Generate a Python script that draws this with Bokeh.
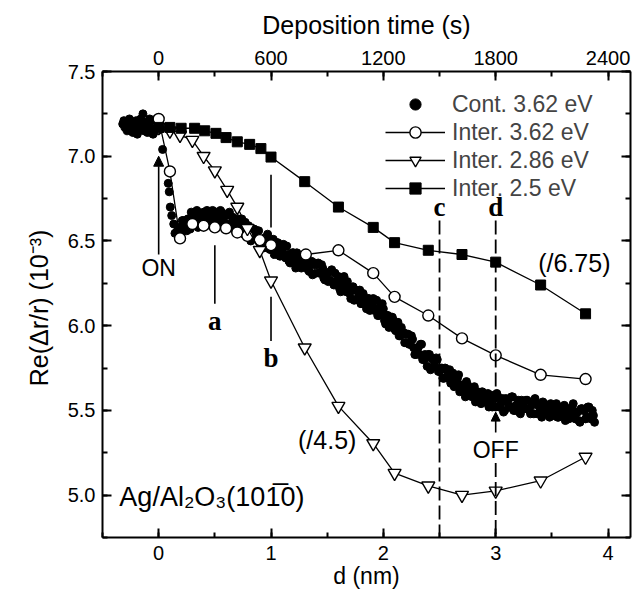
from bokeh.plotting import figure
from bokeh.models import (Range1d, LinearAxis, SingleIntervalTicker, Legend, LegendItem,
                          Label, Arrow, NormalHead, PrintfTickFormatter, CustomJSTickFormatter)
from bokeh.embed import file_html
from bokeh.resources import INLINE

# ---------------- data ----------------
# continuous measurement (Cont. 3.62 eV), read off the picture
cont_d_a = [-0.32, -0.31, -0.30, -0.29, -0.28, -0.27, -0.26, -0.25, -0.24, -0.23,
            -0.22, -0.21, -0.20, -0.19, -0.18, -0.17, -0.16, -0.15, -0.14, -0.13,
            -0.12, -0.11, -0.10, -0.09, -0.08, -0.07, -0.06, -0.05, -0.04, -0.03,
            -0.02, -0.01, 0.00, 0.01, 0.02,
            0.035, 0.085, 0.094, 0.103, 0.116, 0.134, 0.145, 0.163,
            0.18, 0.20, 0.22, 0.24, 0.26, 0.28, 0.30, 0.32, 0.34, 0.36,
            0.38, 0.40, 0.42, 0.44, 0.46, 0.48, 0.50, 0.52, 0.54, 0.56,
            0.58, 0.60, 0.62, 0.64, 0.66, 0.68, 0.70, 0.72, 0.74, 0.76,
            0.78, 0.80, 0.82, 0.84, 0.86, 0.88, 0.90, 0.92, 0.94, 0.96,
            0.98, 1.00, 1.02, 1.04, 1.06, 1.08, 1.10, 1.12, 1.14, 1.16,
            1.18, 1.20, 1.22, 1.24, 1.26, 1.28, 1.30, 1.32, 1.34, 1.36,
            1.38, 1.40, 1.42, 1.44, 1.46, 1.48, 1.50, 1.52, 1.54, 1.56,
            1.58, 1.60, 1.62, 1.64, 1.66, 1.68, 1.70, 1.72, 1.74, 1.76,
            1.78, 1.80, 1.82, 1.84, 1.86, 1.88, 1.90, 1.92, 1.94, 1.96,
            1.98, 2.00, 2.02, 2.04, 2.06, 2.08, 2.10, 2.12, 2.14, 2.16,
            2.18, 2.20, 2.22, 2.24, 2.26, 2.28, 2.30, 2.32, 2.34, 2.36,
            2.38, 2.40, 2.42, 2.44, 2.46, 2.48, 2.50, 2.52, 2.54, 2.56,
            2.58, 2.60, 2.62, 2.64, 2.66, 2.68, 2.70, 2.72, 2.74, 2.76,
            2.78, 2.80, 2.82, 2.84, 2.86, 2.88, 2.90, 2.92, 2.94, 2.96,
            2.98, 3.00, 3.02, 3.04, 3.06, 3.08, 3.10, 3.12, 3.14, 3.16,
            3.18, 3.20, 3.22, 3.24, 3.26, 3.28, 3.30, 3.32, 3.34, 3.36,
            3.38, 3.40, 3.42, 3.44, 3.46, 3.48, 3.50, 3.52, 3.54, 3.56,
            3.58, 3.60, 3.62, 3.64, 3.66, 3.68, 3.70, 3.72, 3.74, 3.76,
            3.78, 3.80, 3.82, 3.84, 3.86, 3.88]
cont_v_a = [7.19, 7.21, 7.17, 7.20, 7.15, 7.19, 7.22, 7.16, 7.18, 7.14,
            7.20, 7.17, 7.21, 7.13, 7.18, 7.16, 7.22, 7.19, 7.25, 7.15,
            7.20, 7.17, 7.14, 7.19, 7.22, 7.16, 7.18, 7.13, 7.20, 7.17,
            7.22, 7.15, 7.19, 7.21, 7.16,
            7.04, 6.84, 6.79, 6.70, 6.65, 6.60, 6.545, 6.555,
            6.58, 6.54, 6.62, 6.58, 6.63, 6.57, 6.63, 6.60, 6.68, 6.61,
            6.64, 6.67, 6.59, 6.66, 6.63, 6.68, 6.62, 6.65, 6.60, 6.67,
            6.65, 6.60, 6.66, 6.60, 6.64, 6.56, 6.61, 6.57, 6.63, 6.54,
            6.56, 6.59, 6.50, 6.56, 6.52, 6.56, 6.49, 6.51, 6.46, 6.52,
            6.50, 6.45, 6.51, 6.45, 6.49, 6.41, 6.45, 6.41, 6.47, 6.38,
            6.41, 6.43, 6.34, 6.41, 6.37, 6.41, 6.35, 6.37, 6.32, 6.38,
            6.36, 6.31, 6.37, 6.31, 6.34, 6.27, 6.31, 6.27, 6.33, 6.24,
            6.26, 6.29, 6.20, 6.26, 6.22, 6.26, 6.19, 6.21, 6.15, 6.21,
            6.19, 6.13, 6.19, 6.13, 6.16, 6.09, 6.13, 6.09, 6.15, 6.06,
            6.08, 6.10, 6.01, 6.06, 6.02, 6.05, 5.98, 6.00, 5.94, 5.99,
            5.96, 5.90, 5.95, 5.89, 5.92, 5.83, 5.87, 5.83, 5.89, 5.80,
            5.81, 5.83, 5.74, 5.80, 5.76, 5.80, 5.73, 5.75, 5.69, 5.74,
            5.72, 5.66, 5.72, 5.66, 5.69, 5.61, 5.65, 5.61, 5.67, 5.59,
            5.61, 5.63, 5.55, 5.61, 5.57, 5.61, 5.55, 5.58, 5.52, 5.59,
            5.57, 5.52, 5.58, 5.53, 5.57, 5.50, 5.55, 5.52, 5.58, 5.50,
            5.53, 5.56, 5.48, 5.54, 5.51, 5.56, 5.50, 5.53, 5.48, 5.54,
            5.53, 5.48, 5.55, 5.49, 5.53, 5.46, 5.51, 5.48, 5.54, 5.46,
            5.49, 5.52, 5.44, 5.51, 5.48, 5.52, 5.47, 5.49, 5.44, 5.51,
            5.50, 5.45, 5.52, 5.46, 5.50, 5.43]
cont_d_b = [0.19, 0.21, 0.23, 0.25, 0.27, 0.29, 0.31, 0.33, 0.35, 0.37,
            0.39, 0.41, 0.43, 0.45, 0.47, 0.49, 0.51, 0.53, 0.55, 0.57,
            0.59, 0.61, 0.63, 0.65, 0.67, 0.69, 0.71, 0.73, 0.75, 0.77,
            0.79, 0.81, 0.83, 0.85, 0.87, 0.89, 0.91, 0.93, 0.95, 0.97,
            0.99, 1.01, 1.03, 1.05, 1.07, 1.09, 1.11, 1.13, 1.15, 1.17,
            1.19, 1.21, 1.23, 1.25, 1.27, 1.29, 1.31, 1.33, 1.35, 1.37,
            1.39, 1.41, 1.43, 1.45, 1.47, 1.49, 1.51, 1.53, 1.55, 1.57,
            1.59, 1.61, 1.63, 1.65, 1.67, 1.69, 1.71, 1.73, 1.75, 1.77,
            1.79, 1.81, 1.83, 1.85, 1.87, 1.89, 1.91, 1.93, 1.95, 1.97,
            1.99, 2.01, 2.03, 2.05, 2.07, 2.09, 2.11, 2.13, 2.15, 2.17,
            2.19, 2.21, 2.23, 2.25, 2.27, 2.29, 2.31, 2.33, 2.35, 2.37,
            2.39, 2.41, 2.43, 2.45, 2.47, 2.49, 2.51, 2.53, 2.55, 2.57,
            2.59, 2.61, 2.63, 2.65, 2.67, 2.69, 2.71, 2.73, 2.75, 2.77,
            2.79, 2.81, 2.83, 2.85, 2.87, 2.89, 2.91, 2.93, 2.95, 2.97,
            2.99, 3.01, 3.03, 3.05, 3.07, 3.09, 3.11, 3.13, 3.15, 3.17,
            3.19, 3.21, 3.23, 3.25, 3.27, 3.29, 3.31, 3.33, 3.35, 3.37,
            3.39, 3.41, 3.43, 3.45, 3.47, 3.49, 3.51, 3.53, 3.55, 3.57,
            3.59, 3.61, 3.63, 3.65, 3.67, 3.69, 3.71, 3.73, 3.75, 3.77,
            3.79, 3.81, 3.83, 3.85, 3.87]
cont_v_b = [6.55, 6.62, 6.58, 6.56, 6.63, 6.67, 6.59, 6.64, 6.58, 6.66,
            6.66, 6.62, 6.68, 6.61, 6.64, 6.60, 6.67, 6.62, 6.68, 6.62,
            6.59, 6.65, 6.67, 6.59, 6.62, 6.55, 6.63, 6.61, 6.56, 6.61,
            6.53, 6.56, 6.51, 6.57, 6.51, 6.56, 6.50, 6.46, 6.52, 6.54,
            6.45, 6.49, 6.42, 6.49, 6.47, 6.42, 6.48, 6.40, 6.42, 6.37,
            6.43, 6.38, 6.43, 6.38, 6.34, 6.39, 6.42, 6.33, 6.37, 6.30,
            6.37, 6.36, 6.31, 6.36, 6.28, 6.30, 6.26, 6.32, 6.26, 6.31,
            6.25, 6.22, 6.27, 6.29, 6.20, 6.23, 6.16, 6.23, 6.21, 6.16,
            6.21, 6.13, 6.15, 6.10, 6.16, 6.10, 6.16, 6.10, 6.06, 6.11,
            6.13, 6.03, 6.06, 5.99, 6.05, 6.03, 5.97, 6.02, 5.94, 5.95,
            5.90, 5.95, 5.89, 5.94, 5.87, 5.83, 5.87, 5.89, 5.80, 5.83,
            5.76, 5.83, 5.81, 5.76, 5.81, 5.73, 5.74, 5.69, 5.75, 5.69,
            5.74, 5.68, 5.64, 5.69, 5.71, 5.62, 5.65, 5.58, 5.65, 5.63,
            5.58, 5.64, 5.56, 5.59, 5.54, 5.60, 5.55, 5.60, 5.55, 5.52,
            5.57, 5.60, 5.52, 5.56, 5.49, 5.57, 5.56, 5.52, 5.58, 5.50,
            5.53, 5.49, 5.56, 5.51, 5.56, 5.51, 5.48, 5.54, 5.57, 5.48,
            5.52, 5.46, 5.54, 5.53, 5.48, 5.54, 5.47, 5.50, 5.46, 5.52,
            5.47, 5.53, 5.48, 5.45, 5.51, 5.54, 5.45, 5.49, 5.43, 5.51,
            5.50, 5.46, 5.52, 5.45, 5.47]

i362_d = [0.00, 0.10, 0.19, 0.30, 0.40, 0.50, 0.60, 0.70, 0.79, 0.90,
          1.00, 1.31, 1.60, 1.91, 2.10, 2.40, 2.70, 3.00, 3.40, 3.80]
i362_v = [7.22, 6.91, 6.515, 6.60, 6.59, 6.58, 6.575, 6.55, 6.53, 6.505,
          6.475, 6.42, 6.445, 6.31, 6.17, 6.06, 5.925, 5.825, 5.71, 5.685]

i286_d = [0.00, 0.10, 0.19, 0.30, 0.40, 0.50, 0.61, 0.70, 0.79, 0.90,
          1.00, 1.30, 1.60, 1.91, 2.10, 2.40, 2.70, 3.00, 3.40, 3.80]
i286_v = [7.17, 7.15, 7.125, 7.095, 7.00, 6.915, 6.80, 6.70, 6.575, 6.445,
          6.265, 5.87, 5.525, 5.305, 5.13, 5.055, 5.00, 5.025, 5.085, 5.225]

i25_d = [0.00, 0.10, 0.20, 0.32, 0.41, 0.51, 0.60, 0.70, 0.81, 0.91,
         1.00, 1.30, 1.60, 1.91, 2.10, 2.40, 2.70, 3.00, 3.40, 3.80]
i25_v = [7.17, 7.17, 7.165, 7.165, 7.15, 7.135, 7.11, 7.085, 7.07, 7.045,
         6.995, 6.85, 6.70, 6.58, 6.49, 6.445, 6.42, 6.375, 6.24, 6.07]

legend_labels = ["Cont. 3.62 eV", "Inter. 3.62 eV", "Inter. 2.86 eV", "Inter. 2.5 eV"]
x_ticks_interval = 1
y_ticks_interval = 0.5
time_ticks_interval = 600

FONT = "Liberation Sans"
SERIF = "Liberation Serif"

p = figure(width=633, height=592, output_backend="svg", toolbar_location=None,
           x_range=Range1d(-0.5, 4.2), y_range=Range1d(4.75, 7.5),
           min_border_left=102, min_border_right=3, min_border_top=71, min_border_bottom=55,
           x_axis_label="d (nm)", y_axis_label="Re(\u0394r/r)  (10\u207b\u00b3)")
p.grid.visible = False
p.outline_line_color = None
p.background_fill_color = "white"
p.border_fill_color = "white"

p.extra_x_ranges = {"time": Range1d(-0.5 * 600, 4.2 * 600)}
top = LinearAxis(x_range_name="time", axis_label="Deposition time (s)",
                 ticker=SingleIntervalTicker(interval=time_ticks_interval, num_minor_ticks=2))
p.add_layout(top, "above")
right = LinearAxis(ticker=SingleIntervalTicker(interval=y_ticks_interval, num_minor_ticks=2),
                   formatter=CustomJSTickFormatter(code="return ''"))
p.add_layout(right, "right")

p.below[0].ticker = SingleIntervalTicker(interval=x_ticks_interval, num_minor_ticks=2)
p.left[0].ticker = SingleIntervalTicker(interval=y_ticks_interval, num_minor_ticks=2)
p.left[0].formatter = PrintfTickFormatter(format="%.1f")

for ax in [p.below[0], p.left[0], top, right]:
    ax.axis_line_width = 2
    ax.axis_line_color = "black"
    ax.major_tick_line_width = 2
    ax.minor_tick_line_width = 2
    ax.major_tick_line_color = "black"
    ax.minor_tick_line_color = "black"
    ax.major_tick_in = 9
    ax.major_tick_out = 0
    ax.minor_tick_in = 5
    ax.minor_tick_out = 0
    ax.major_label_text_font = FONT
    ax.major_label_text_font_size = "20px"
    ax.major_label_text_color = "black"
    ax.axis_label_text_font = FONT
    ax.axis_label_text_font_size = "25px"
    ax.axis_label_text_font_style = "normal"
    ax.axis_label_text_color = "black"

p.left[0].major_label_standoff = 7
p.left[0].axis_label_standoff = 12
bx = p.below[0]
bx.major_label_standoff = 8
bx.axis_label_standoff = 0
bx.axis_label_text_font_size = "23px"
top.major_label_standoff = 7
top.axis_label_standoff = 9
right.major_label_standoff = 0

# ---------------- series ----------------
r_cont = p.scatter(cont_d_a + cont_d_b, cont_v_a + cont_v_b, marker="circle", size=8,
                   color="black")

l362 = p.line(i362_d, i362_v, line_width=1.3, color="black")
m362 = p.scatter(i362_d, i362_v, marker="circle", size=11, fill_color="white",
                 line_color="black", line_width=1.4)
l286 = p.line(i286_d, i286_v, line_width=1.3, color="black")
m286 = p.scatter(i286_d, i286_v, marker="inverted_triangle", size=13, fill_color="white",
                 line_color="black", line_width=1.4)
l25 = p.line(i25_d, i25_v, line_width=1.3, color="black")
m25 = p.scatter(i25_d, i25_v, marker="square", size=10, fill_color="black",
                line_color="black")

legend = Legend(items=[LegendItem(label=legend_labels[0], renderers=[r_cont]),
                       LegendItem(label=legend_labels[1], renderers=[l362, m362]),
                       LegendItem(label=legend_labels[2], renderers=[l286, m286]),
                       LegendItem(label=legend_labels[3], renderers=[l25, m25])],
                location=(283, 335), border_line_color=None, background_fill_alpha=0,
                padding=0, margin=0, spacing=0, glyph_width=60, glyph_height=28,
                label_height=28, label_standoff=7,
                label_text_font=FONT, label_text_font_size="23px")
p.add_layout(legend)

# ---------------- annotations ----------------
def lab(x, y, t, size="24px", font=FONT, style="normal", align="center"):
    p.add_layout(Label(x=x, y=y, text=t, text_font=font, text_font_size=size,
                       text_font_style=style, text_align=align, text_baseline="middle",
                       text_color="black"))

# ON arrow
p.add_layout(Arrow(end=NormalHead(size=10, fill_color="black", line_color="black"),
                   x_start=0.0, y_start=6.42, x_end=0.0, y_end=7.0,
                   line_width=1.6, line_color="black"))
lab(0.0, 6.34, "ON", size="23px")

# a
p.segment(x0=[0.5], y0=[6.475], x1=[0.5], y1=[6.13], line_width=1.6, color="black")
lab(0.5, 6.03, "a", size="27px", font=SERIF, style="bold")
# b
p.segment(x0=[1.0, 1.0], y0=[6.89, 6.17], x1=[1.0, 1.0], y1=[6.58, 5.91],
          line_width=1.6, color="black")
lab(1.0, 5.81, "b", size="27px", font=SERIF, style="bold")
# c
p.segment(x0=[2.5], y0=[6.62], x1=[2.5], y1=[4.75], line_width=1.8, color="black",
          line_dash="14 5")
lab(2.5, 6.70, "c", size="27px", font=SERIF, style="bold")
# d
p.segment(x0=[3.0, 3.0], y0=[6.62, 5.19], x1=[3.0, 3.0], y1=[5.52, 4.75],
          line_width=1.8, color="black", line_dash="14 5")
lab(3.0, 6.70, "d", size="27px", font=SERIF, style="bold")
p.add_layout(Arrow(end=NormalHead(size=9, fill_color="black", line_color="black"),
                   x_start=3.0, y_start=5.37, x_end=3.0, y_end=5.49,
                   line_width=1.6, line_color="black"))
lab(3.0, 5.265, "OFF", size="23px")

lab(3.70, 6.37, "(/6.75)", size="25px")
lab(1.50, 5.325, "(/4.5)", size="25px")
lab(-0.35, 4.99, "Ag/Al\u2082O\u2083(101\u03050)", size="27px", align="left")

open("out.html", "w").write(file_html(p, INLINE))
